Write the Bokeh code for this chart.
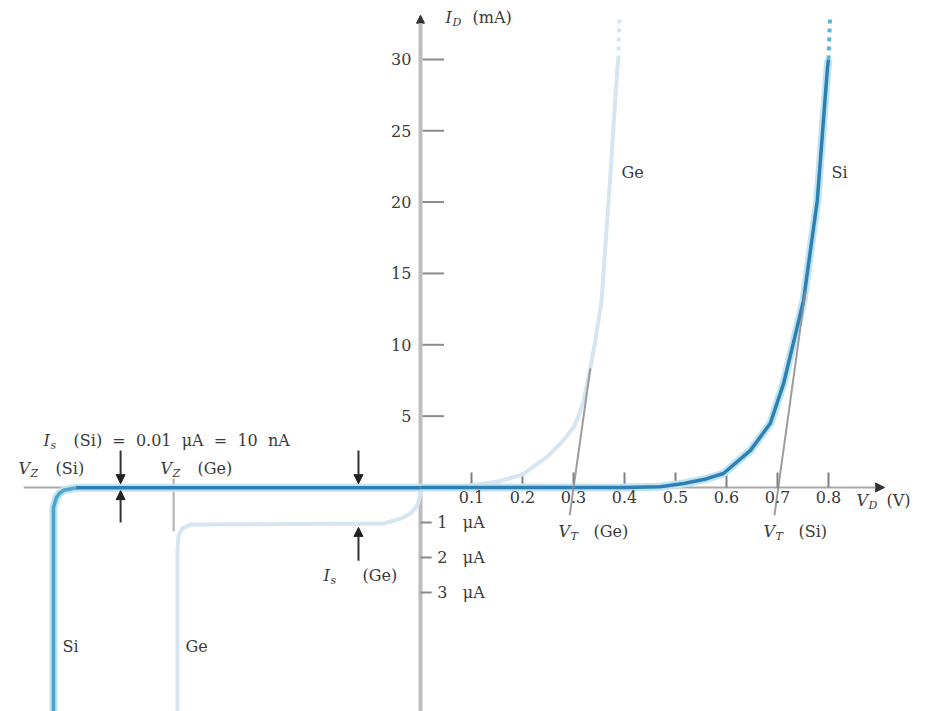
from bokeh.plotting import figure
from bokeh.models import Range1d, Arrow, NormalHead
from bokeh.core.properties import value
from bokeh.embed import file_html
from bokeh.resources import INLINE

# ---------------- data ----------------
# forward region: V_D in volts, I_D in mA
si_fwd_v = [0.0, 0.40, 0.47, 0.516, 0.56, 0.594, 0.647, 0.686, 0.712, 0.731, 0.751, 0.778, 0.798, 0.80]
si_fwd_i = [0.0, 0.0, 0.05, 0.28, 0.60, 0.98, 2.6, 4.5, 7.3, 10.1, 13.1, 20.1, 29.4, 30.0]
ge_fwd_v = [0.0, 0.05, 0.10, 0.15, 0.20, 0.25, 0.28, 0.30, 0.31, 0.32, 0.333, 0.343, 0.355, 0.3725, 0.386, 0.388]
ge_fwd_i = [0.0, 0.03, 0.15, 0.40, 0.90, 2.2, 3.3, 4.2, 5.0, 6.1, 8.4, 10.3, 13.1, 22.0, 29.4, 30.0]
# dotted continuation above 30 mA
si_cont_v = [0.80, 0.803]
si_cont_i = [30.0, 33.0]
ge_cont_v = [0.388, 0.390]
ge_cont_i = [30.0, 33.0]
# reverse region: reverse current in microamps (own scale)
si_rev_v = [0.0, -0.676, -0.700, -0.708, -0.714, -0.7196, -0.7196]
si_rev_i = [-0.01, -0.01, -0.08, -0.17, -0.29, -0.57, -6.4]
ge_rev_v = [0.0, -0.002, -0.006, -0.0196, -0.039, -0.0725, -0.451, -0.467, -0.4745, -0.4765, -0.4765]
ge_rev_i = [0.0, -0.29, -0.51, -0.74, -0.89, -1.03, -1.06, -1.17, -1.37, -1.8, -6.4]
# threshold (tangent) lines V_T
si_vt_v = [0.694, 0.755]
si_vt_i = [-1.96, 13.8]
ge_vt_v = [0.2925, 0.333]
ge_vt_i = [-1.96, 8.34]
# ticks
x_ticks = [0.1, 0.2, 0.3, 0.4, 0.5, 0.6, 0.7, 0.8]
x_tick_labels = ["0.1", "0.2", "0.3", "0.4", "0.5", "0.6", "0.7", "0.8"]
y_ticks = [5, 10, 15, 20, 25, 30]
y_tick_labels = ["5", "10", "15", "20", "25", "30"]
ua_ticks = [-1, -2, -3]
ua_tick_labels = ["1\u00a0\u00a0\u00a0\u03bcA", "2\u00a0\u00a0\u00a0\u03bcA", "3\u00a0\u00a0\u00a0\u03bcA"]
vz_ge = -0.484
is_si_pos = -0.588
is_ge_pos = -0.1216

FONT = "DejaVu Serif"
TC = "#3a3a3a"
FS = 16

p = figure(width=925, height=711, x_range=Range1d(-0.8235, 0.9902),
           y_range=Range1d(-15.70, 34.13), x_axis_type=None, y_axis_type=None,
           min_border=0, outline_line_color=None, toolbar_location=None,
           output_backend="svg", background_fill_color="white")
p.extra_y_ranges = {"ua": Range1d(-6.4, 13.914)}
p.grid.visible = False

# axes
p.add_layout(Arrow(end=NormalHead(size=9, fill_color="#333333", line_color="#333333"),
                   x_start=-0.778, y_start=0, x_end=0.91, y_end=0,
                   line_color="#a9a9a9", line_width=2, level="underlay"))
p.add_layout(Arrow(end=NormalHead(size=8, fill_color="#333333", line_color="#333333"),
                   x_start=0, y_start=-15.7, x_end=0, y_end=33.1,
                   line_color="#bdbdbd", line_width=4, level="underlay"))

# ticks
p.segment(x0=x_ticks, y0=[0] * len(x_ticks), x1=x_ticks, y1=[1.05] * len(x_ticks),
          line_color="#808080", line_width=2)
p.segment(x0=[0.004] * len(y_ticks), y0=y_ticks, x1=[0.046] * len(y_ticks), y1=y_ticks,
          line_color="#8a8a8a", line_width=2)
p.segment(x0=[0.0] * len(ua_ticks), y0=ua_ticks, x1=[0.022] * len(ua_ticks), y1=ua_ticks,
          line_color="#8a8a8a", line_width=2, y_range_name="ua")

# V_Z(Ge) marker
p.segment(x0=[vz_ge], y0=[0.26], x1=[vz_ge], y1=[-1.25], line_color="#b0b0b0",
          line_width=2, y_range_name="ua")

# Ge curves (pale)
GE = "#d5e6f0"
p.line(ge_fwd_v, ge_fwd_i, line_color=GE, line_width=4)
p.line(ge_cont_v, ge_cont_i, line_color=GE, line_width=4, line_dash="4 5")
p.line(ge_rev_v, ge_rev_i, line_color=GE, line_width=4, y_range_name="ua")

# Si curves (blue with halo)
SI_H = "#bfe3f2"
SI = "#2f80b2"
p.line(si_fwd_v, si_fwd_i, line_color=SI_H, line_width=8)
p.line(si_rev_v, si_rev_i, line_color=SI_H, line_width=8, y_range_name="ua")
p.line(si_fwd_v, si_fwd_i, line_color=SI, line_width=3.5)
p.line(si_rev_v[:2], si_rev_i[:2], line_color=SI, line_width=3.5, y_range_name="ua")
p.line(si_rev_v[1:], si_rev_i[1:], line_color="#4aa6cb", line_width=3.5, y_range_name="ua")
p.line(si_cont_v, si_cont_i, line_color="#5ab4d6", line_width=4, line_dash="4 5")

# threshold lines
p.line(si_vt_v, si_vt_i, line_color="#8c8c8c", line_width=2, line_alpha=0.85)
p.line(ge_vt_v, ge_vt_i, line_color="#8c8c8c", line_width=2, line_alpha=0.85)

# I_s arrows
def arr(x, y0, y1):
    p.add_layout(Arrow(end=NormalHead(size=9, fill_color="#222222", line_color="#222222"),
                       x_start=x, y_start=y0, x_end=x, y_end=y1,
                       line_color="#333333", line_width=2, y_range_name="ua"))

arr(is_si_pos, 1.06, 0.11)
arr(is_si_pos, -1.0, -0.09)
arr(is_ge_pos, 1.06, 0.11)
arr(is_ge_pos, -2.09, -1.14)

# text helpers
def txt(x, y, s, align="left", baseline="middle", size=FS, italic=False, xo=0, yo=0, rng="default"):
    p.text(x=[x], y=[y], text=[s], text_font=value(FONT), text_font_size=f"{size}px",
           text_font_style="italic" if italic else "normal", text_color=TC,
           text_align=align, text_baseline=baseline, x_offset=xo, y_offset=yo,
           y_range_name=rng)

def sublabel(x, y, main, sub, rest, wmain, roff):
    txt(x, y, main, italic=True)
    txt(x, y, sub, size=11, italic=True, xo=wmain, yo=5)
    txt(x, y, rest, xo=roff)

# tick labels
for xv, lab in zip(x_ticks, x_tick_labels):
    txt(xv, -0.25, lab, align="center", baseline="top")
for yv, lab in zip(y_ticks, y_tick_labels):
    txt(-0.018, yv, lab, align="right")
for yv, lab in zip(ua_ticks, ua_tick_labels):
    txt(0.033, yv, lab, rng="ua")

# axis titles and annotations
sublabel(0.049, 32.94, "I", "D", "(mA)", 7, 27)
sublabel(0.855, -0.91, "V", "D", "(V)", 12, 30)
sublabel(0.2706, -3.08, "V", "T", "(Ge)", 12, 35)
sublabel(0.6725, -3.08, "V", "T", "(Si)", 12, 35)
sublabel(-0.739, 3.29, "I", "s",
         "(Si)\u00a0\u00a0=\u00a0\u00a00.01\u00a0\u00a0\u03bcA\u00a0\u00a0=\u00a0\u00a010\u00a0\u00a0nA", 7, 30)
sublabel(-0.788, 1.33, "V", "Z", "(Si)", 12, 37)
sublabel(-0.51, 1.33, "V", "Z", "(Ge)", 12, 37)
sublabel(-0.190, -6.17, "I", "s", "(Ge)", 7, 39)
txt(0.394, 22.07, "Ge")
txt(0.806, 22.07, "Si")
txt(-0.702, -11.14, "Si")
txt(-0.461, -11.14, "Ge")

open("out.html", "w").write(file_html(p, INLINE))
